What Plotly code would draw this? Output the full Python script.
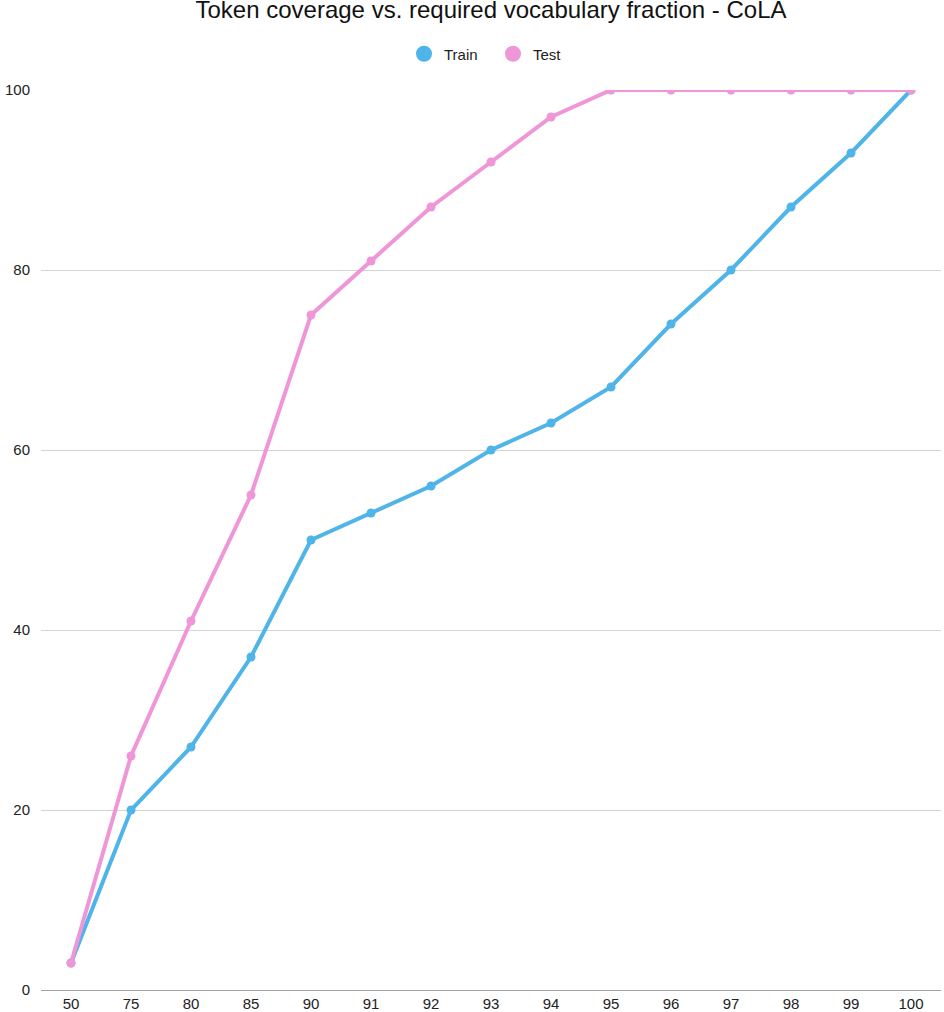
import plotly.graph_objects as go

categories = ["50", "75", "80", "85", "90", "91", "92", "93", "94", "95", "96", "97", "98", "99", "100"]
train = [3, 20, 27, 37, 50, 53, 56, 60, 63, 67, 74, 80, 87, 93, 100]
test = [3, 26, 41, 55, 75, 81, 87, 92, 97, 100, 100, 100, 100, 100, 100]

W, H = 944, 1012
L, R, T, B = 41, 3, 90, 22
BLUE = "#4fb4e8"
PINK = "#ee96d8"

fig = go.Figure()
for name, vals, col in [("Train", train, BLUE), ("Test", test, PINK)]:
    fig.add_trace(go.Scatter(x=categories, y=vals, name=name, mode="lines+markers",
                             legendgroup=name, showlegend=False,
                             line=dict(color=col, width=4), marker=dict(size=9, color=col)))
for name, col in [("Train", BLUE), ("Test", PINK)]:
    fig.add_trace(go.Scatter(x=[None], y=[None], name=name, mode="markers",
                             legendgroup=name, showlegend=True,
                             marker=dict(size=16, color=col)))

fig.update_layout(
    width=W, height=H,
    margin=dict(l=L, r=R, t=T, b=B),
    paper_bgcolor="white", plot_bgcolor="white",
    font=dict(family="Liberation Sans, Arial, sans-serif", size=15, color="#222222"),
    title=dict(text="Token coverage vs. required vocabulary fraction - CoLA",
               x=0.5, xref="paper", xanchor="center", y=1 - 10 / H, yanchor="middle",
               font=dict(size=24, color="#111111")),
    legend=dict(orientation="h", x=(493 - L) / (W - L - R), xanchor="center",
                y=(H - B - 54) / (H - T - B), yanchor="middle",
                font=dict(size=15, color="#222222"), itemsizing="trace", entrywidth=44),
    showlegend=True,
)
fig.update_xaxes(type="category", range=[-0.5, 14.5], showgrid=False, zeroline=False,
                 showline=True, linecolor="#a0a0a0", linewidth=1, ticks="", automargin=False,
                 tickfont=dict(size=15, color="#222222"))
fig.update_yaxes(range=[0, 100], dtick=20, showgrid=True, gridcolor="#d4d4d4", gridwidth=1,
                 zeroline=False, showline=False, ticks="", ticklabelstandoff=10, automargin=False,
                 tickfont=dict(size=15, color="#222222"))

fig.write_html("out.html", config={"displayModeBar": False},
               post_script="document.body.style.margin='0';document.body.style.overflow='hidden';")
